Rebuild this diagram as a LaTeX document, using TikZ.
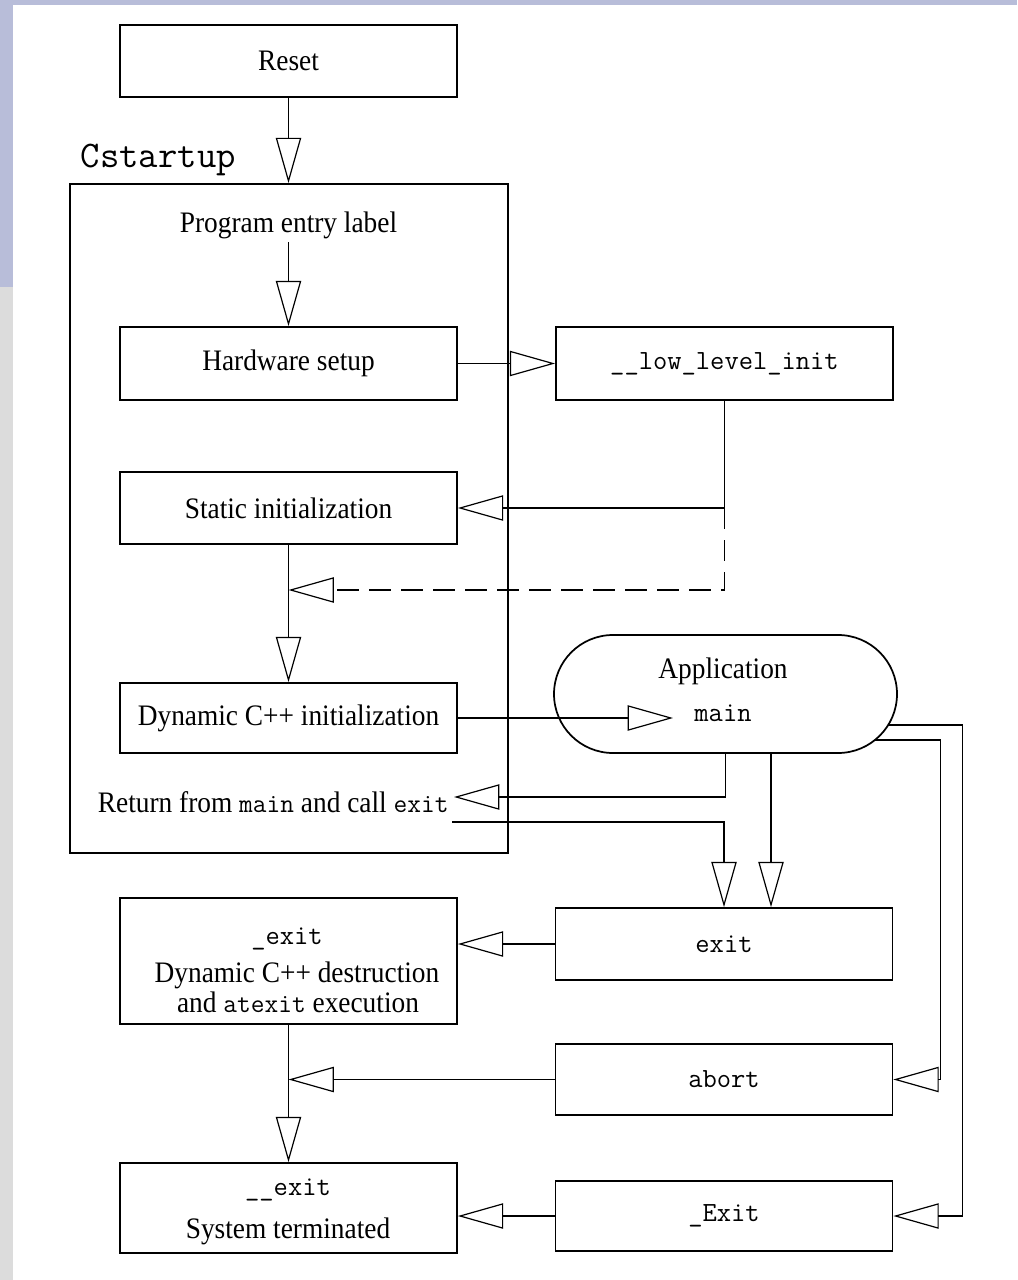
\documentclass[tikz,border=0pt]{standalone}
\usepackage{fontspec}
\setmainfont{Liberation Serif}[FakeStretch=0.92]
\usetikzlibrary{arrows.meta,calc}
\definecolor{bandblue}{RGB}{184,189,217}
\definecolor{bandgray}{RGB}{220,220,220}
\newcommand\serifsize{\fontsize{22.3pt}{18pt}\selectfont}
\newcommand\codesize{\fontsize{20.8pt}{20pt}\selectfont\ttfamily}
\newcommand\code[1]{{\fontsize{20pt}{20pt}\selectfont\ttfamily #1}}

\begin{document}
\begin{tikzpicture}[x=0.75pt,y=-0.75pt,
  line width=1.3pt,
  blk/.style={draw, rectangle, inner sep=0pt, minimum width=252.75pt},
  lbl/.style={font=\serifsize, inner sep=1.5pt},
  code/.style={font=\codesize, inner sep=1.5pt},
  arr/.style={-{Triangle[open,length=34pt,width=19pt,line width=0.9pt]}},
  ]
  % page and side bands
  \useasboundingbox (0,0) rectangle (1017,1280);
  \fill[white] (0,0) rectangle (1017,1280);
  \fill[bandblue] (0,0) rectangle (1017,5);
  \fill[bandblue] (0,0) rectangle (13,287);
  \fill[bandgray] (0,287) rectangle (13,1280);

  % start-up sequence
  \node[blk, minimum height=54pt, font=\serifsize] (reset) at (288.5,61) {Reset};
  \node[draw, minimum width=328.5pt, minimum height=501.75pt, inner sep=0pt] (cst) at (289,518.5) {};
  \node[anchor=base west, font=\fontsize{28.2pt}{28pt}\selectfont\ttfamily, inner sep=0pt] (cstlabel) at (80,168) {Cstartup};
  \node[lbl, anchor=base] (entry) at (288.5,233) {Program entry label};
  \node[blk, minimum height=54.75pt, font=\serifsize] (hw) at (288.5,363.5) {Hardware setup};
  \node[blk, minimum height=54.75pt, font=\codesize] (ll) at (724.5,363.5) {\_\_low\_level\_init};
  \node[blk, minimum height=54pt, font=\serifsize] (stat) at (288.5,508) {Static initialization};
  \node[blk, minimum height=52.5pt, font=\serifsize] (dyn) at (288.5,718) {Dynamic C++ initialization};

  % application
  \node[draw, rounded corners=44.25pt, minimum width=257.25pt, minimum height=88.5pt, inner sep=0pt] (app) at (725.5,694) {};
  \node[lbl, anchor=base] (appname) at (723,678) {Application};
  \node[code, anchor=base] (appmain) at (723,721) {main};
  \node[lbl, anchor=base west] (ret) at (95,812) {Return from \code{main} and call \code{exit}};

  % termination
  \node[blk, minimum height=54pt, font=\codesize] (exitb) at (724,944) {exit};
  \node[blk, minimum height=94.5pt] (dest) at (288.5,961) {};
  \node[code, anchor=base] (destname) at (287,944) {\_exit};
  \node[lbl, anchor=base, inner sep=0pt] (destl1) at (297,982) {Dynamic C++ destruction};
  \node[lbl, anchor=base, inner sep=0pt] (destl2) at (298,1012) {and \code{atexit} execution};
  \node[blk, minimum height=53.25pt, font=\codesize] (abort) at (724,1079.5) {abort};
  \node[blk, minimum height=67.5pt] (term) at (288.5,1208) {};
  \node[code, anchor=base] (termname) at (288,1195) {\_\_exit};
  \node[lbl, anchor=base] (terml) at (288,1238) {System terminated};
  \node[blk, minimum height=52.5pt, font=\codesize] (Exit) at (724,1216) {\_Exit};

  % junctions and free ends
  \coordinate (j1) at (ll.south |- stat.east);
  \coordinate (j2) at (724.5,590);
  \coordinate (mainin) at (673,718);
  \coordinate (retin) at (454,797);
  \coordinate (retout) at (452,822);
  \coordinate (a2) at (771,753);
  \coordinate (o1) at (888,725);
  \coordinate (o2) at (875,740);

  % connectors
  \draw[arr] (reset.south) -- (reset.south |- cst.north);
  \draw[arr] (hw.north |- entry.south) -- (hw.north);
  \draw[arr] (hw.east) -- (ll.west);
  \draw[arr] (ll.south) |- (stat.east);
  \draw[arr, dash pattern=on 16pt off 8pt] (j1) -- (j2) -- (stat.south |- j2);
  \draw[arr] (stat.south) -- (dyn.north);
  \draw[arr] (dyn.east) -- (mainin);
  \draw[arr] (app.south) |- (retin);
  \draw[arr] (retout) -| (exitb.north);
  \draw[arr] (a2) -- (a2 |- exitb.north);
  \draw[arr] (exitb.west) -- (exitb.west -| dest.east);
  \draw[arr] (abort.west) -- (abort.west -| dest.south);
  \draw[arr] (dest.south) -- (term.north);
  \draw[arr] (Exit.west) -- (Exit.west -| term.east);
  \draw[arr] (o2) -| ([xshift=35.25pt]abort.east) -- (abort.east);
  \draw[arr] (o1) -| ([xshift=51.75pt]Exit.east) -- (Exit.east);
\end{tikzpicture}
\end{document}
